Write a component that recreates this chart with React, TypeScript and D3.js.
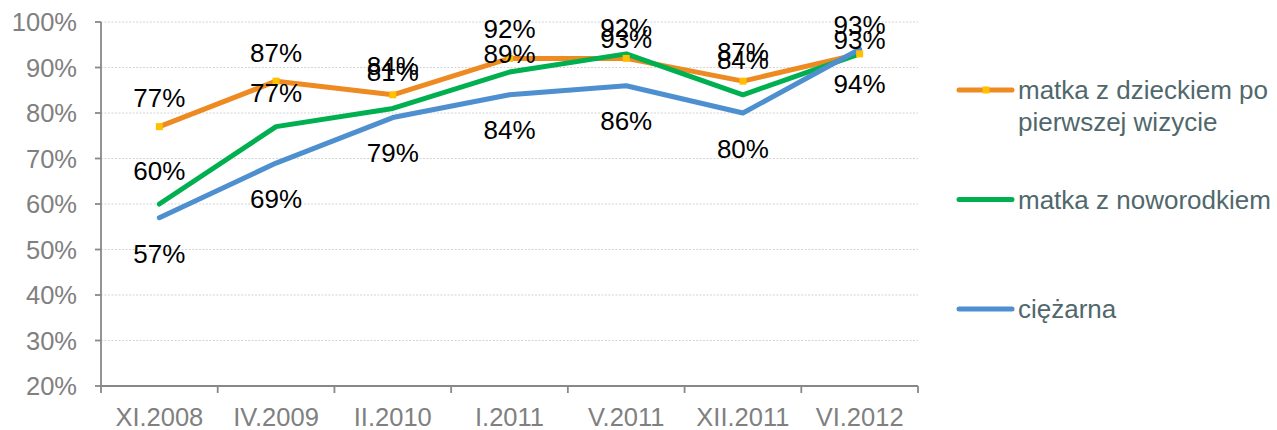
import React from "react";
import * as d3 from "d3";

const categories = ["XI.2008", "IV.2009", "II.2010", "I.2011", "V.2011", "XII.2011", "VI.2012"];
const seriesNames = ["matka z dzieckiem po pierwszej wizycie", "matka z noworodkiem", "ciężarna"];
const orangeValues = [0.77, 0.87, 0.84, 0.92, 0.92, 0.87, 0.93];
const greenValues = [0.60, 0.77, 0.81, 0.89, 0.93, 0.84, 0.93];
const blueValues = [0.57, 0.69, 0.79, 0.84, 0.86, 0.80, 0.94];
const yTicks = [0.2, 0.3, 0.4, 0.5, 0.6, 0.7, 0.8, 0.9, 1.0];

// label vertical offsets (px) per point
const orangeLabelDy = [-29, -28, -29, -29, -30, -29, -29];
const greenLabelDy = [-33, -34, -36, -18, -15, -35, -14];
const blueLabelDy = [36, 36, 35, 35, 35, 36, 35];

const FONT = "'Liberation Sans', Arial, Helvetica, sans-serif";

export default function App() {
  const W = 1277, H = 430;
  const left = 101, right = 918, top = 22, bottom = 386;
  const x = d3.scaleBand<string>().domain(categories).range([left, right]);
  const cx = (c: string) => (x(c) as number) + x.bandwidth() / 2;
  const y = d3.scaleLinear().domain([0.2, 1.0]).range([bottom, top]);
  const line = d3
    .line<number>()
    .x((_, i) => cx(categories[i]))
    .y((v) => y(v));

  const series = [
    { name: seriesNames[0], values: orangeValues, color: "#ee8a22", dy: orangeLabelDy, marker: true },
    { name: seriesNames[1], values: greenValues, color: "#00b050", dy: greenLabelDy, marker: false },
    { name: seriesNames[2], values: blueValues, color: "#4e8fd0", dy: blueLabelDy, marker: false },
  ];

  const fmt = d3.format(".0%");
  const boundaries = d3.range(categories.length + 1).map((i) => left + i * x.step());

  const legendY = [90, 199.5, 309];
  const legendText = [["matka z dzieckiem po", "pierwszej wizycie"], ["matka z noworodkiem"], ["ciężarna"]];

  return (
    <svg width={W} height={H} style={{ position: "absolute", left: 0, top: 0, background: "#fff" }} fontFamily={FONT}>
      {/* gridlines */}
      {yTicks.map((t) => (
        <line key={"g" + t} x1={left} x2={right} y1={y(t)} y2={y(t)} stroke="#d4d4d4" strokeWidth={1} strokeDasharray="2,1.5" />
      ))}
      {/* y axis */}
      <line x1={left} x2={left} y1={top} y2={bottom} stroke="#888" strokeWidth={1.8} />
      {yTicks.map((t) => (
        <g key={"yt" + t}>
          <line x1={left - 6} x2={left} y1={y(t)} y2={y(t)} stroke="#888" strokeWidth={1.8} />
          <text x={77} y={y(t)} textAnchor="end" dominantBaseline="central" fontSize={25.5} fill="#808080">
            {fmt(t)}
          </text>
        </g>
      ))}
      {/* x axis */}
      <line x1={left} x2={right} y1={bottom} y2={bottom} stroke="#888" strokeWidth={1.8} />
      {boundaries.map((b, i) => (
        <line key={"xt" + i} x1={b} x2={b} y1={bottom} y2={bottom + 7} stroke="#888" strokeWidth={1.8} />
      ))}
      {categories.map((c) => (
        <text key={"xl" + c} x={cx(c)} y={417} textAnchor="middle" dominantBaseline="central" fontSize={25.5} fill="#808080">
          {c}
        </text>
      ))}
      {/* lines */}
      {series.map((s) => (
        <path key={"p" + s.name} d={line(s.values) || ""} fill="none" stroke={s.color} strokeWidth={5} strokeLinejoin="round" strokeLinecap="round" />
      ))}
      {/* markers */}
      {orangeValues.map((v, i) => (
        <rect key={"m" + i} x={cx(categories[i]) - 3.5} y={y(v) - 3.5} width={7} height={7} fill="#ffc000" />
      ))}
      {/* labels */}
      {series.map((s) =>
        s.values.map((v, i) => (
          <text key={"l" + s.name + i} x={cx(categories[i])} y={y(v) + s.dy[i]} textAnchor="middle" dominantBaseline="central" fontSize={26} fill="#000">
            {fmt(v)}
          </text>
        ))
      )}
      {/* legend */}
      {series.map((s, i) => (
        <g key={"lg" + i}>
          <line x1={959} x2={1012} y1={legendY[i]} y2={legendY[i]} stroke={s.color} strokeWidth={5} strokeLinecap="round" />
          {s.marker && <rect x={986 - 3.5} y={legendY[i] - 3.5} width={7} height={7} fill="#ffc000" />}
          {legendText[i].map((t, j) => (
            <text key={j} x={1018} y={legendY[i] + j * 32} dominantBaseline="central" fontSize={26} fill="#50686c">
              {t}
            </text>
          ))}
        </g>
      ))}
    </svg>
  );
}
